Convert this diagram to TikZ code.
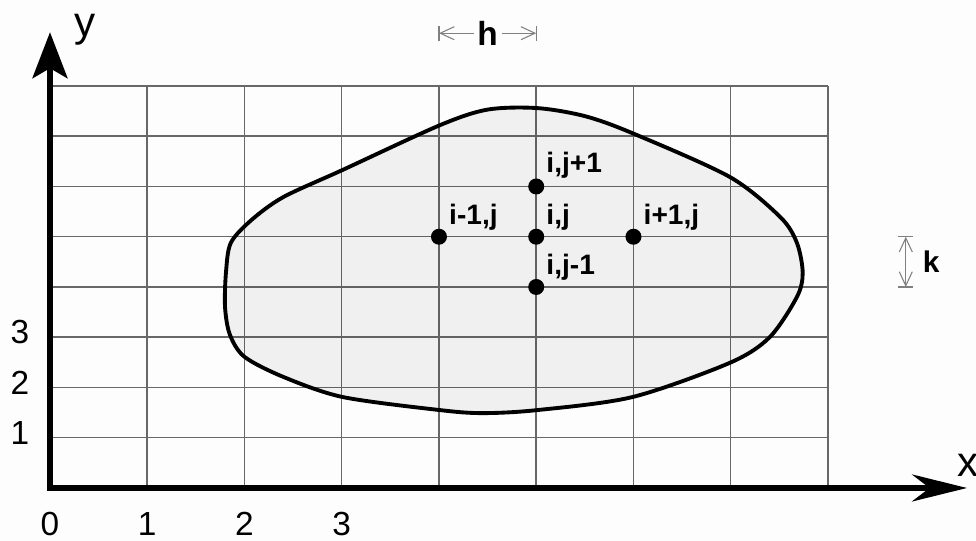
\documentclass[tikz,border=0pt]{standalone}
\usepackage{fontspec}
\setmainfont{Liberation Sans}
\usetikzlibrary{arrows.meta,positioning}
\definecolor{gridgray}{RGB}{104,104,104}
\definecolor{dimgray}{RGB}{128,128,128}
\definecolor{paper}{RGB}{253,253,253}
\tikzset{
gridline/.style={gridgray,line width=0.85pt},
axisline/.style={line width=3pt,line join=miter},
region/.style={draw=black,line width=2.2pt,fill=black,fill opacity=0.05},
dot/.style={circle,fill=black,inner sep=0pt,minimum size=0.32cm},
ptlabel/.style={inner sep=0pt,font=\fontsize{16}{19}\selectfont\bfseries},
numlabel/.style={inner sep=0pt,font=\fontsize{19}{22}\selectfont},
axislabel/.style={inner sep=0pt,font=\fontsize{24}{28}\selectfont},
dimline/.style={dimgray,line width=0.6pt},
dimlabel/.style={inner sep=2pt,font=\fontsize{19}{22}\selectfont\bfseries}
}

\begin{document}
\begin{tikzpicture}[x=1.945cm,y=1.005cm,>={Straight Barb[length=0.28cm,width=0.26cm]}]
\useasboundingbox[fill=paper] (-0.514,-1.055) rectangle (9.522,9.711);
% mesh
\foreach \i in {1,...,8} \draw[gridline] (\i,0) -- (\i,8);
\foreach \j in {1,...,8} \draw[gridline] (0,\j) -- (8,\j);
% domain
\path[region] plot[smooth cycle] coordinates {
(1.80,3.60) (1.81,4.30) (1.86,4.88) (2.07,5.33) (2.40,5.79) (3.01,6.33)
(4.01,7.22) (4.50,7.53) (5.01,7.56) (5.50,7.40) (5.99,7.06) (6.99,6.19)
(7.51,5.39) (7.68,4.88) (7.74,4.28) (7.68,3.80) (7.40,3.00) (6.99,2.49)
(5.99,1.81) (5.01,1.55) (4.45,1.49) (4.01,1.55) (3.01,1.81) (2.40,2.21)
(2.00,2.61) (1.85,3.05)};
% axes
\coordinate (o) at (0,0);
\coordinate (ytip) at (0,9.07);
\coordinate (xtip) at (9.43,0);
\draw[axisline,{Stealth[length=0.92cm,width=0.7cm,inset=0.2cm]}-{Stealth[length=1.1cm,width=0.54cm,inset=0.35cm]}] (ytip) -- (o) -- (xtip);
\node[axislabel] (ylab) at (0.36,9.11) {y};
\node[axislabel] (xlab) at (9.44,0.46) {x};
\foreach \n in {0,...,3} \node[numlabel] (nx\n) at (\n,-0.72) {\n};
\foreach \n in {1,2,3} \node[numlabel] (ny\n) at (-0.31,\n+0.1) {\n};
% stencil points
\node[dot] (ij) at (5,5) {};
\node[dot] (im) at (4,5) {};
\node[dot] (ip) at (6,5) {};
\node[dot] (jp) at (5,6) {};
\node[dot] (jm) at (5,4) {};
\node[ptlabel,above right=0cm and 0.08cm of ij] (lij) {i,j};
\node[ptlabel,above right=0cm and 0.08cm of im] (lim) {i-1,j};
\node[ptlabel,above right=0cm and 0.08cm of ip] (lip) {i+1,j};
\node[ptlabel,above right=0.03cm and 0.08cm of jp] (ljp) {i,j+1};
\node[ptlabel,above right=0cm and 0.08cm of jm] (ljm) {i,j-1};
% step h
\coordinate (hl) at (4,9.05);
\coordinate (hr) at (5,9.05);
\node[dimlabel] (hlab) at (4.5,9.05) {h};
\draw[dimline,->] (hlab) -- (hl);
\draw[dimline,->] (hlab) -- (hr);
\draw[dimline] ([yshift=-0.15cm]hl) -- ([yshift=0.15cm]hl);
\draw[dimline] ([yshift=-0.15cm]hr) -- ([yshift=0.15cm]hr);
% step k
\coordinate (kb) at (8.80,4);
\coordinate (kt) at (8.80,5);
\draw[dimline,<->] (kb) -- (kt);
\draw[dimline] ([xshift=-0.15cm]kb) -- ([xshift=0.15cm]kb);
\draw[dimline] ([xshift=-0.15cm]kt) -- ([xshift=0.15cm]kt);
\node[dimlabel,font=\fontsize{17}{20}\selectfont\bfseries] (klab) at (9.06,4.5) {k};
\end{tikzpicture}
\end{document}
